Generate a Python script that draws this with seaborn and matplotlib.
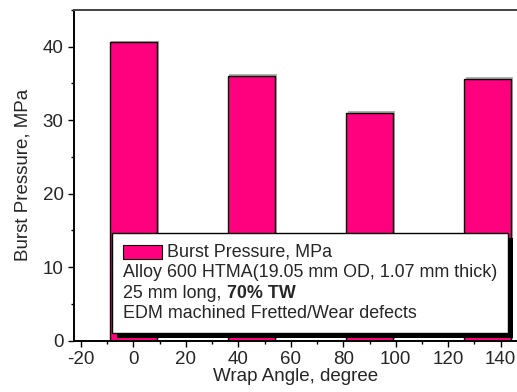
import matplotlib
matplotlib.use("Agg")
import matplotlib.pyplot as plt
import matplotlib.patheffects as pe
from matplotlib.patches import Rectangle
from matplotlib.offsetbox import AnchoredOffsetbox, VPacker, HPacker, TextArea, DrawingArea
from matplotlib.ticker import MultipleLocator
import seaborn as sns

# data
wrap_angles = [0, 45, 90, 135]
burst_pressures = [40.6, 36.05, 31.0, 35.6]

legend_label = "Burst Pressure, MPa"
note_lines = ["Alloy 600 HTMA(19.05 mm OD, 1.07 mm thick)",
              "25 mm long, ", "70% TW",
              "EDM machined Fretted/Wear defects"]

bar_color = "#FF007F"
tick_size = 13.5
label_size = 13.5
legend_size = 12.9

sns.set_style("ticks")
plt.rcParams["font.family"] = ["Liberation Sans", "DejaVu Sans"]
plt.rcParams["axes.unicode_minus"] = False

fig = plt.figure(figsize=(5.17, 3.92), dpi=100)
ax = fig.add_axes([74 / 517, (392 - 340.7) / 392, 443 / 517, 330.7 / 392])

sns.barplot(x=wrap_angles, y=burst_pressures, native_scale=True, width=0.4,
            color=bar_color, saturation=1, edgecolor="black", linewidth=1.0,
            ax=ax, zorder=2)
for bar in ax.patches:
    bar.set_path_effects([pe.SimplePatchShadow(offset=(1.2, 1.2), shadow_rgbFace="gray", alpha=0.6),
                          pe.Normal()])

ax.set_xlim(-22.6, 146.2)
ax.set_ylim(0, 45)
ax.xaxis.set_major_locator(MultipleLocator(20))
ax.xaxis.set_minor_locator(MultipleLocator(10))
ax.yaxis.set_major_locator(MultipleLocator(10))
ax.yaxis.set_minor_locator(MultipleLocator(5))
ax.tick_params(which="major", length=4.5, width=1.0, pad=3, labelsize=tick_size, color="black")
ax.tick_params(which="minor", length=2.2, width=1.0, color="black")
ax.set_xlabel("Wrap Angle, degree", fontsize=label_size, labelpad=0)
ax.set_ylabel("Burst Pressure, MPa", fontsize=label_size, labelpad=8)

for side in ["left", "bottom", "top"]:
    ax.spines[side].set_linewidth(1.4)
    ax.spines[side].set_color("black")
ax.spines["top"].set_color("#444444")
ax.spines["right"].set_visible(False)

# legend block with colour swatch and note lines
swatch = DrawingArea(28, 10.5, 0, 0)
swatch.add_artist(Rectangle((0, 0), 28, 10.5, facecolor=bar_color, edgecolor="black", linewidth=0.8))
row1 = HPacker(children=[swatch, TextArea(legend_label, textprops=dict(size=legend_size))],
               align="center", pad=0, sep=3.6)
row2 = TextArea(note_lines[0], textprops=dict(size=legend_size))
row3 = HPacker(children=[TextArea(note_lines[1], textprops=dict(size=legend_size)),
                         TextArea(note_lines[2], textprops=dict(size=legend_size, weight="bold"))],
               align="baseline", pad=0, sep=0)
row4 = TextArea(note_lines[3], textprops=dict(size=legend_size))
block = VPacker(children=[row1, row2, row3, row4], align="left", pad=0, sep=2.5)

box = AnchoredOffsetbox(loc="lower right", child=block, pad=0.6, borderpad=0,
                        bbox_to_anchor=(0.98, 0.024), bbox_transform=ax.transAxes,
                        frameon=True, prop=dict(size=legend_size))
box.patch.set_boxstyle("square", pad=0)
box.patch.set_edgecolor("black")
box.patch.set_linewidth(1.0)
box.set_zorder(6)
ax.add_artist(box)

fig.canvas.draw()
ext = box.patch.get_window_extent()
inv = ax.transAxes.inverted()
(x0, y0), (x1, y1) = inv.transform([(ext.x0 + 5, ext.y0 - 5), (ext.x1 + 5, ext.y1 - 5)])
ax.add_patch(Rectangle((x0, y0), x1 - x0, y1 - y0, transform=ax.transAxes,
                       facecolor="black", edgecolor="none", zorder=5, clip_on=False))

fig.savefig("out.png", dpi=100)
